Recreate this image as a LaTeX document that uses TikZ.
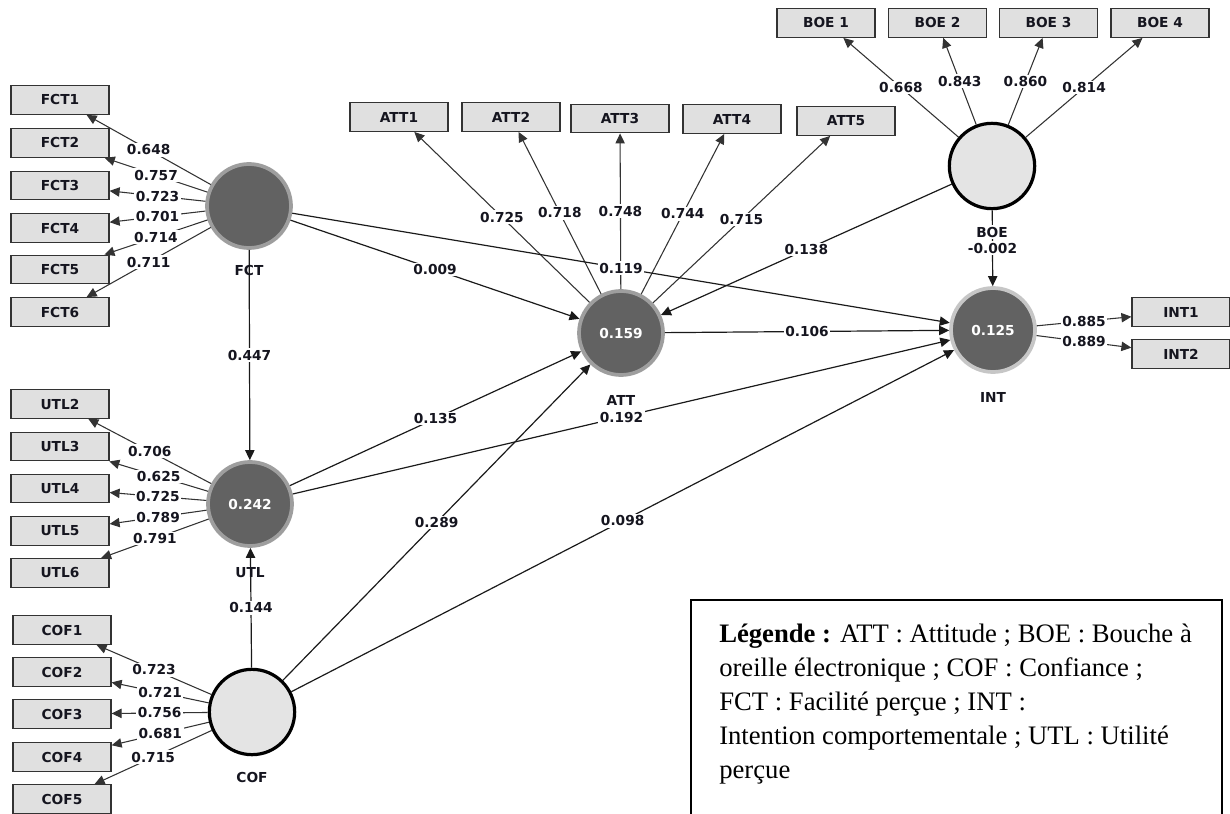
\documentclass[tikz,border=0pt]{standalone}
\usepackage{fontspec}
\setmainfont{Liberation Serif}
\newfontfamily\plsfont{DejaVu Sans}
\usetikzlibrary{arrows.meta}

\definecolor{boxfill}{HTML}{E0E0E0}
\definecolor{boxline}{HTML}{333333}
\definecolor{latdark}{HTML}{626262}
\definecolor{ringgray}{HTML}{9E9E9E}
\definecolor{ringlight}{HTML}{C6C6C6}
\definecolor{exofill}{HTML}{E4E4E4}
\definecolor{loadline}{HTML}{333333}
\definecolor{pathline}{HTML}{1A1A1A}
\definecolor{lbltext}{HTML}{15151F}

\begin{document}
\begin{tikzpicture}[x=0.75pt,y=-0.75pt,
  plstext/.style={font=\plsfont\bfseries\fontsize{10.3}{12}\selectfont, text=lbltext},
  ind/.style={plstext, draw=boxline, line width=0.9pt, fill=boxfill,
    minimum width=73.5pt, minimum height=21.5pt, inner sep=0pt},
  endo/.style={circle, fill=latdark, draw=ringgray, line width=2.8pt,
    minimum size=63pt, inner sep=0pt, plstext, text=white},
  exo/.style={circle, fill=exofill, draw=black, line width=2.4pt,
    minimum size=64pt, inner sep=0pt},
  namelbl/.style={plstext, inner sep=1pt},
  lbl/.style={plstext, fill=white, inner sep=1.2pt},
  tip/.style={-{Triangle[length=7.5pt,width=7pt]}},
  load/.style={tip, draw=loadline, line width=0.8pt},
  struct/.style={tip, draw=pathline, line width=0.9pt}
]
\useasboundingbox (0,0) rectangle (1230,813);

% latent variables
\node[endo] (FCT) at (249,206) {};
\node[endo] (UTL) at (250,504) {0.242};
\node[exo]  (COF) at (252,712) {};
\node[endo] (ATT) at (621,333) {0.159};
\node[endo, draw=ringlight] (INT) at (993,330) {0.125};
\node[exo]  (BOE) at (992,166) {};

% indicators
\node[ind] (FCT1) at (60,100) {FCT1};
\node[ind] (FCT2) at (60,143) {FCT2};
\node[ind] (FCT3) at (60,185.5) {FCT3};
\node[ind] (FCT4) at (60,228) {FCT4};
\node[ind] (FCT5) at (60,269.5) {FCT5};
\node[ind] (FCT6) at (60,312) {FCT6};

\node[ind] (UTL2) at (60,404) {UTL2};
\node[ind] (UTL3) at (60,446.5) {UTL3};
\node[ind] (UTL4) at (60,488.5) {UTL4};
\node[ind] (UTL5) at (60,531) {UTL5};
\node[ind] (UTL6) at (60,573) {UTL6};

\node[ind] (COF1) at (62,630) {COF1};
\node[ind] (COF2) at (62,672) {COF2};
\node[ind] (COF3) at (62,714) {COF3};
\node[ind] (COF4) at (62,757) {COF4};
\node[ind] (COF5) at (62,799) {COF5};

\node[ind] (ATT1) at (399,117) {ATT1};
\node[ind] (ATT2) at (511,117) {ATT2};
\node[ind] (ATT3) at (620,118.5) {ATT3};
\node[ind] (ATT4) at (732,119) {ATT4};
\node[ind] (ATT5) at (846,121) {ATT5};

\node[ind] (BOE1) at (826,23) {BOE 1};
\node[ind] (BOE2) at (937.5,23) {BOE 2};
\node[ind] (BOE3) at (1048.5,23) {BOE 3};
\node[ind] (BOE4) at (1160,23) {BOE 4};

\node[ind] (INT1) at (1181,312) {INT1};
\node[ind] (INT2) at (1181,354) {INT2};

% outer loadings: lines
\foreach \lv/\mv in {FCT/FCT1,FCT/FCT2,FCT/FCT3,FCT/FCT4,FCT/FCT5,FCT/FCT6,
  UTL/UTL2,UTL/UTL3,UTL/UTL4,UTL/UTL5,UTL/UTL6,
  COF/COF1,COF/COF2,COF/COF3,COF/COF4,COF/COF5,
  ATT/ATT1,ATT/ATT2,ATT/ATT3,ATT/ATT4,ATT/ATT5,
  BOE/BOE1,BOE/BOE2,BOE/BOE3,BOE/BOE4,INT/INT1,INT/INT2}
  \draw[load] (\lv) -- (\mv);

% inner model: lines
\foreach \a/\b in {FCT/ATT,FCT/INT,FCT/UTL,UTL/ATT,UTL/INT,COF/UTL,
  COF/ATT,COF/INT,BOE/ATT,BOE/INT,ATT/INT}
  \draw[struct] (\a) -- (\b);

% construct names
\node[namelbl] (FCTname) at (249,270) {FCT};
\node[namelbl] (UTLname) at (250,573) {UTL};
\node[namelbl] (COFname) at (252,777) {COF};
\node[namelbl] (ATTname) at (621,400) {ATT};
\node[namelbl] (INTname) at (993,397) {INT};
\node[namelbl, fill=white] (BOEname) at (992,232) {BOE};

% outer loadings: values
\foreach \lv/\mv/\w in {FCT/FCT1/0.648,FCT/FCT2/0.757,FCT/FCT3/0.723,
  FCT/FCT4/0.701,FCT/FCT5/0.714,FCT/FCT6/0.711,
  UTL/UTL2/0.706,UTL/UTL3/0.625,UTL/UTL4/0.725,UTL/UTL5/0.789,UTL/UTL6/0.791,
  COF/COF1/0.723,COF/COF2/0.721,COF/COF3/0.756,COF/COF4/0.681,COF/COF5/0.715,
  ATT/ATT1/0.725,ATT/ATT2/0.718,ATT/ATT3/0.748,ATT/ATT4/0.744,ATT/ATT5/0.715,
  BOE/BOE1/0.668,BOE/BOE2/0.843,BOE/BOE3/0.860,BOE/BOE4/0.814,
  INT/INT1/0.885,INT/INT2/0.889}
  \path (\lv) -- node[lbl] {\w} (\mv);

% path coefficients
\foreach \a/\b/\w in {FCT/ATT/0.009,FCT/INT/0.119,FCT/UTL/0.447,UTL/ATT/0.135,
  UTL/INT/0.192,COF/UTL/0.144,COF/ATT/0.289,COF/INT/0.098,BOE/ATT/0.138,
  BOE/INT/-0.002,ATT/INT/0.106}
  \path (\a) -- node[lbl] {\w} (\b);

% legend
\draw[line width=1.5pt] (691,820) -- (691,600) -- (1222,600) -- (1222,820);
\node[anchor=north west, align=left, inner sep=0pt,
  font=\fontsize{20}{25.5}\selectfont] (legend) at (719,624)
  {\textbf{Légende :} ATT : Attitude ; BOE : Bouche à\\
   oreille électronique ; COF : Confiance ;\\
   FCT : Facilité perçue ; INT :\\
   Intention comportementale ; UTL : Utilité\\
   perçue};
\end{tikzpicture}
\end{document}
